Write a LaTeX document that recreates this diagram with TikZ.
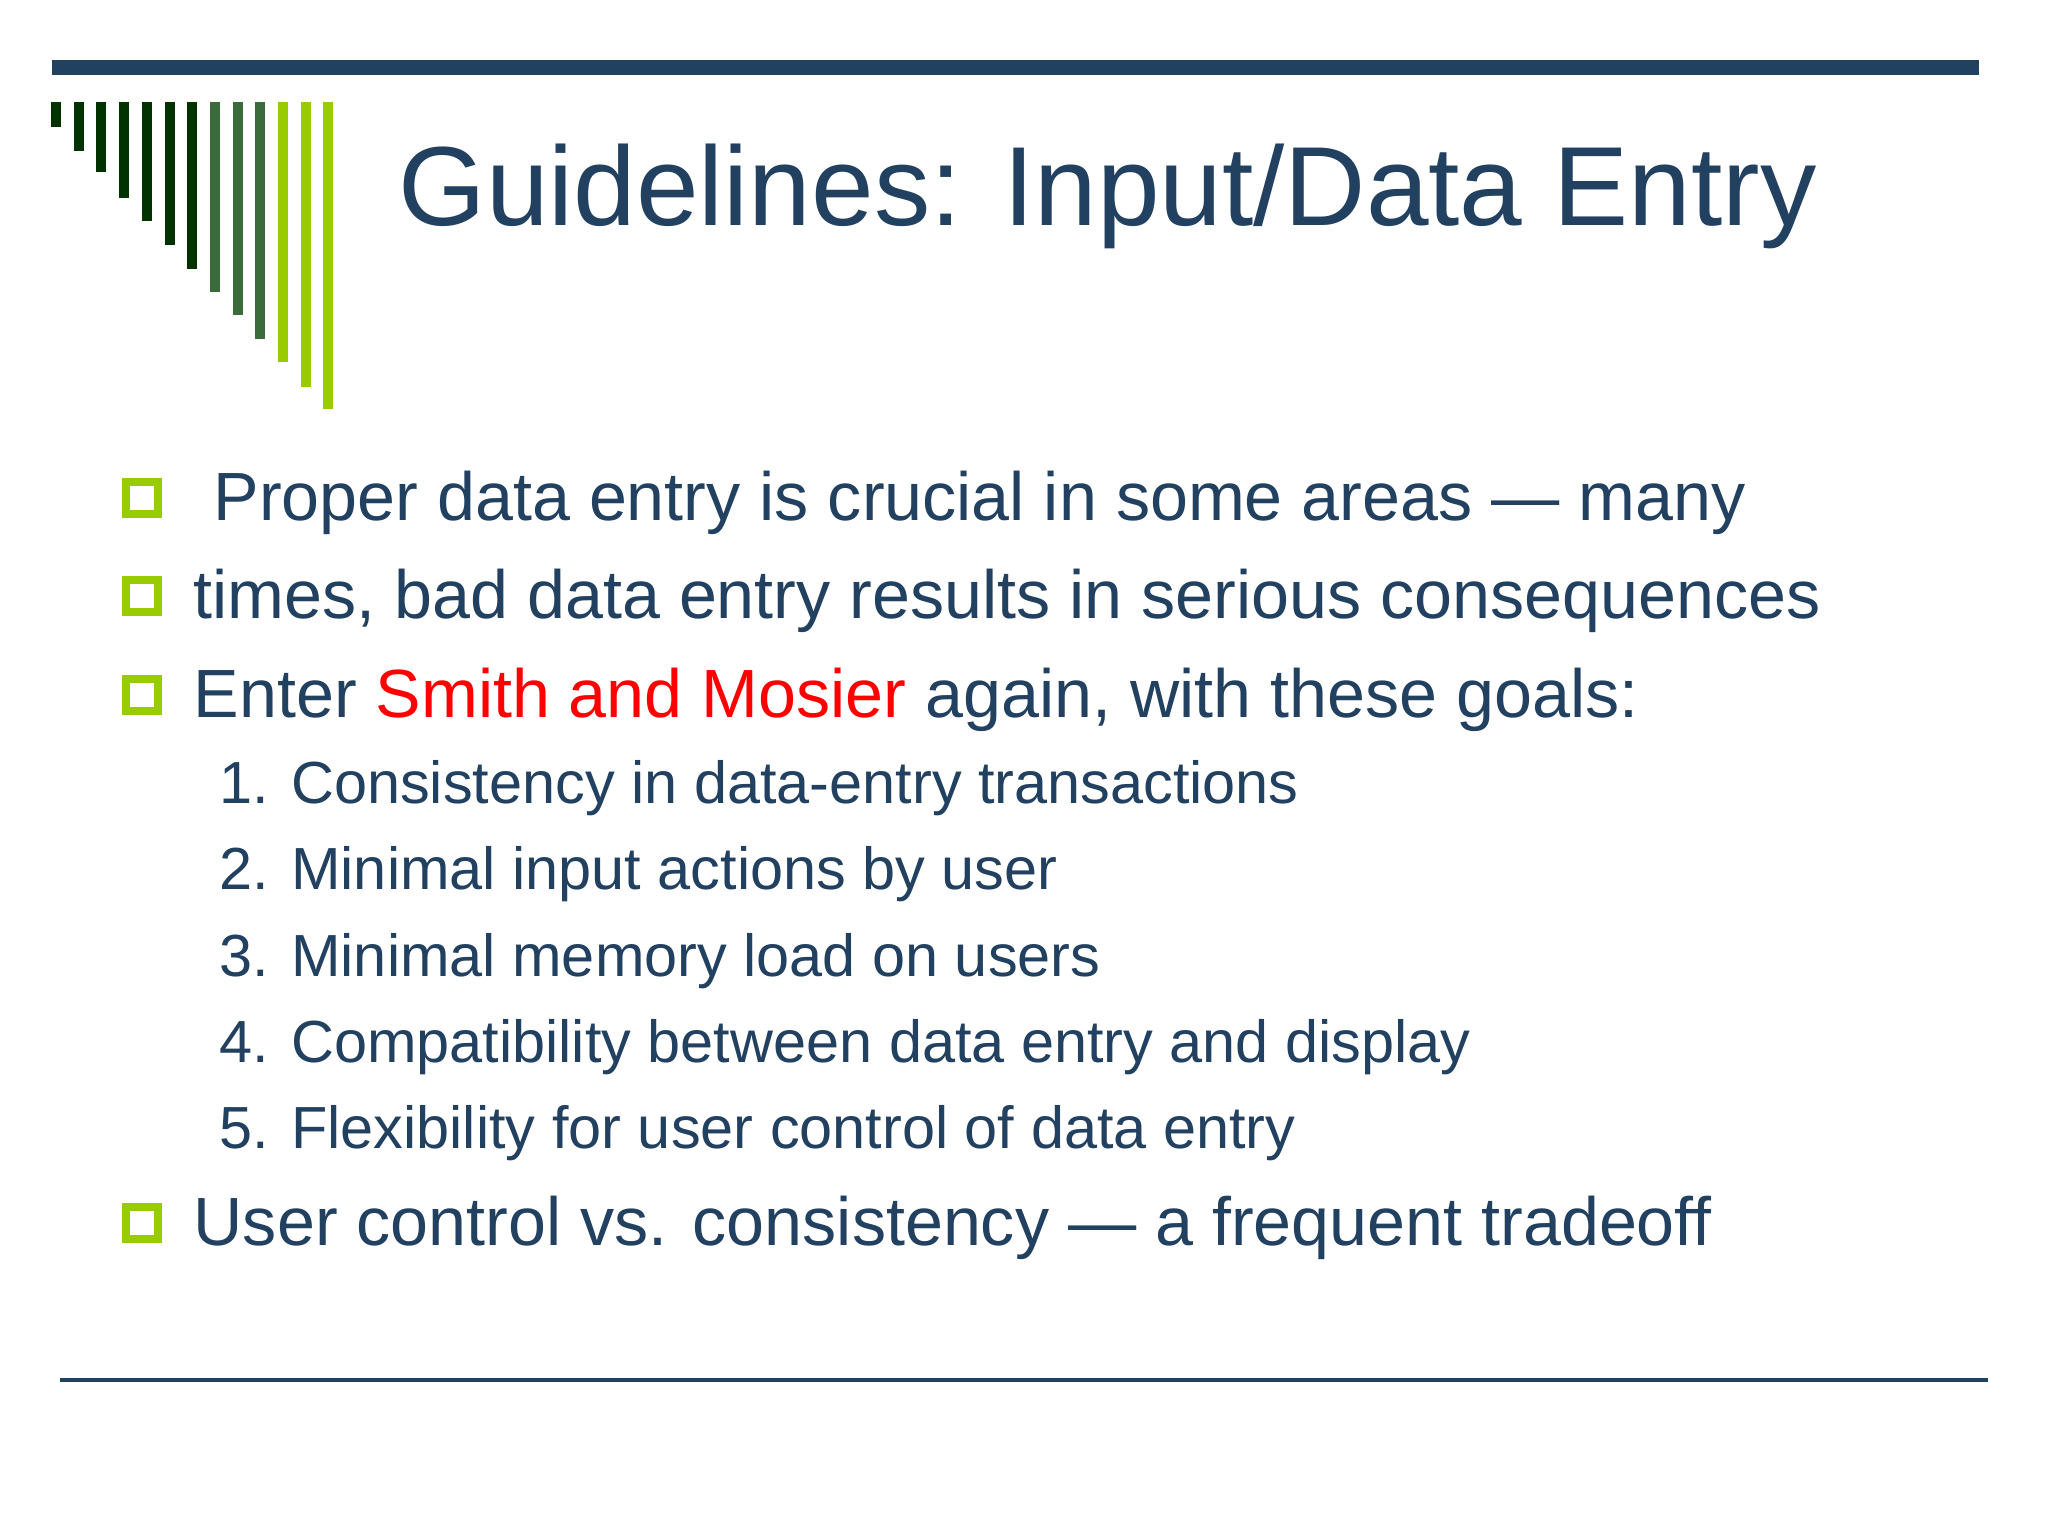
\documentclass[tikz,border=0pt]{standalone}
\usepackage{fontspec}
\setmainfont{Liberation Sans}
\definecolor{navy}{HTML}{22405F}
\definecolor{dkg}{HTML}{003300}
\definecolor{mdg}{HTML}{3A6B3A}
\definecolor{ltg}{HTML}{99CC00}
\tikzset{
  px/.style={x=0.01cm,y=-0.01cm},
  title/.style={anchor=base west,inner sep=0,text=navy,font=\fontsize{32}{38}\selectfont},
  bul/.style={anchor=base west,inner sep=0,text=navy,font=\fontsize{19.4}{22}\selectfont},
  item/.style={anchor=base west,inner sep=0,text=navy,font=\fontsize{16.9}{20}\selectfont},
  box/.style={draw=ltg,line width=0.75mm,minimum size=0,inner sep=0}
}
\begin{document}
\begin{tikzpicture}[px]
\useasboundingbox (0,0) rectangle (2048,1536);
\fill[navy] (52,60) rectangle (1979,75);
\foreach \i/\b/\c in {0/127/dkg,1/151/dkg,2/172/dkg,3/198/dkg,4/221/dkg,5/245/dkg,6/269/dkg,7/292/mdg,8/315/mdg,9/339/mdg,10/362/ltg,11/387/ltg,12/409/ltg}
  \fill[\c] ({51+22.7*\i},102) rectangle ({61+22.7*\i},\b);
\node[title] (t) at (398,225) {Guidelines: Input/Data Entry};
\foreach \y/\n in {520/b1,618/b2,717/b3,1245/b4}
  \draw[box] (126,{\y-38}) rectangle (158,{\y-6});
\node[bul] (l1) at (213,520) {Proper data entry is crucial in some areas — many};
\node[bul] (l2) at (193,618) {times, bad data entry results in serious consequences};
\node[bul] (l3) at (193,717) {Enter \textcolor{red}{Smith and Mosier} again, with these goals:};
\node[item] (i1) at (219,803) {1. Consistency in data-entry transactions};
\node[item] (i2) at (219,889) {2. Minimal input actions by user};
\node[item] (i3) at (219,976) {3. Minimal memory load on users};
\node[item] (i4) at (219,1062) {4. Compatibility between data entry and display};
\node[item] (i5) at (219,1148) {5. Flexibility for user control of data entry};
\node[bul] (l4) at (193,1245) {User control vs. consistency — a frequent tradeoff};
\draw[navy,line width=0.4mm] (60,1380) -- (1988,1380);
\end{tikzpicture}
\end{document}
